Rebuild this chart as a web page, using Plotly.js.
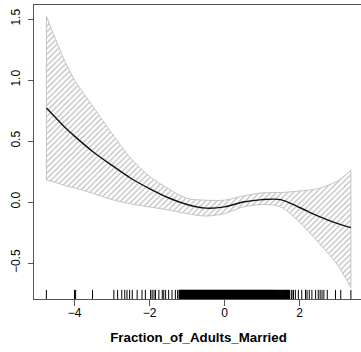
<!DOCTYPE html>
<html>
<head>
<meta charset="utf-8">
<script src="https://cdn.plot.ly/plotly-3.0.1.min.js"></script>
<style>
html,body{margin:0;padding:0;overflow:hidden;background:#fff;width:361px;height:352px;}
#chart{width:370px;height:352px;}
</style>
</head>
<body>
<div id="chart"></div>
<script>
// smooth-term grid
const xGrid = [-4.75, -4.5, -4.25, -4.0, -3.5, -3.0, -2.5, -2.0, -1.5, -1.0, -0.5, 0.0, 0.5, 1.0, 1.5, 2.0, 2.5, 3.0, 3.37];
const fitVals = [0.77, 0.69, 0.61, 0.54, 0.41, 0.30, 0.195, 0.11, 0.035, -0.02, -0.05, -0.04, 0.0, 0.02, 0.02, -0.045, -0.115, -0.175, -0.21];
const upperVals = [1.525, 1.33, 1.15, 1.0, 0.78, 0.56, 0.36, 0.21, 0.11, 0.03, 0.015, 0.015, 0.05, 0.075, 0.078, 0.09, 0.11, 0.17, 0.26];
const lowerVals = [0.18, 0.16, 0.135, 0.115, 0.07, 0.02, -0.015, -0.04, -0.065, -0.095, -0.115, -0.095, -0.04, -0.02, -0.04, -0.165, -0.33, -0.51, -0.70];

// rug of observed x values
const rugSparseLeft = [
 -4.75, -4.00, -3.97, -3.52, -2.95, -2.85, -2.74, -2.66, -2.60, -2.53, -2.46, -2.33, -2.20, -2.11,
 -1.97, -1.93, -1.88, -1.84, -1.75, -1.66, -1.62, -1.57, -1.49, -1.40, -1.31, -1.25
];
const rugDense = [
 -1.20, -1.18, -1.15, -1.13, -1.10, -1.08, -1.05, -1.03, -1.00, -0.98, -0.96, -0.93, -0.91, -0.88,
 -0.86, -0.84, -0.81, -0.79, -0.76, -0.74, -0.72, -0.69, -0.67, -0.64, -0.62, -0.60, -0.57, -0.55,
 -0.52, -0.50, -0.48, -0.45, -0.43, -0.40, -0.38, -0.36, -0.33, -0.31, -0.28, -0.26, -0.24, -0.21,
 -0.19, -0.16, -0.14, -0.12, -0.09, -0.07, -0.04, -0.02, 0.00, 0.03, 0.05, 0.08, 0.10, 0.12, 0.15,
 0.17, 0.20, 0.22, 0.24, 0.27, 0.29, 0.32, 0.34, 0.36, 0.39, 0.41, 0.44, 0.46, 0.48, 0.51, 0.53,
 0.56, 0.58, 0.60, 0.63, 0.65, 0.68, 0.70, 0.72, 0.75, 0.77, 0.80, 0.82, 0.84, 0.87, 0.89, 0.92,
 0.94, 0.96, 0.99, 1.01, 1.04, 1.06, 1.08, 1.11, 1.13, 1.16, 1.18, 1.20, 1.23, 1.25, 1.28, 1.30,
 1.33, 1.36, 1.40, 1.43, 1.47, 1.50, 1.54, 1.57, 1.61, 1.65, 1.68, 1.72,
 -1.165, -1.115, -1.065, -1.015, -0.945, -0.895, -0.825, -0.775, -0.705, -0.655, -0.585, -0.535,
 -0.465, -0.415, -0.345, -0.295, -0.225, -0.175, -0.105, -0.055, 0.015, 0.065, 0.135, 0.185,
 0.255, 0.305, 0.375, 0.425, 0.495, 0.545, 0.615, 0.665, 0.735, 0.785, 0.855, 0.905, 0.975,
 1.025, 1.095, 1.145, 1.215, 1.265, 1.345, 1.415, 1.485, 1.555, 1.625, 1.695
];
const rugSparseRight = [
 1.78, 1.80, 1.84, 1.89, 1.97, 2.06, 2.16, 2.20, 2.26, 2.33, 2.43, 2.50, 2.55, 2.60, 2.65, 2.74,
 2.96, 3.10, 3.37
];

const xTicks = [-4, -2, 0, 2];
const yTicks = [-0.5, 0.0, 0.5, 1.0, 1.5];
const xTitle = "Fraction_of_Adults_Married";

const bandColor = '#c4c4c4';
const last = xGrid.length - 1;

const traces = [
  {x: xGrid, y: lowerVals, mode: 'lines', line: {color: bandColor, width: 1, shape: 'spline', smoothing: 0.8},
   hoverinfo: 'skip', showlegend: false},
  {x: xGrid, y: upperVals, mode: 'lines', line: {color: bandColor, width: 1, shape: 'spline', smoothing: 0.8},
   fill: 'tonexty', fillcolor: 'rgba(255,255,255,0)',
   fillpattern: {shape: '/', fgcolor: '#bdbdbd', bgcolor: 'rgba(255,255,255,0)', size: 4, solidity: 0.3},
   hoverinfo: 'skip', showlegend: false},
  {x: [xGrid[0], xGrid[0]], y: [lowerVals[0], upperVals[0]], mode: 'lines', line: {color: bandColor, width: 1},
   hoverinfo: 'skip', showlegend: false},
  {x: [xGrid[last], xGrid[last]], y: [lowerVals[last], upperVals[last]], mode: 'lines', line: {color: bandColor, width: 1},
   hoverinfo: 'skip', showlegend: false},
  {x: xGrid, y: fitVals, mode: 'lines', line: {color: '#111', width: 1.4, shape: 'spline', smoothing: 0.8},
   showlegend: false}
];

function rugShape(v, w) {
  return {type: 'line', xref: 'x', yref: 'paper', x0: v, x1: v, y0: 0, y1: 0.031,
          line: {color: '#000', width: w}, layer: 'above'};
}
const shapes = rugSparseLeft.map(v => rugShape(v, 1))
  .concat(rugDense.map(v => rugShape(v, 2)))
  .concat(rugSparseRight.map(v => rugShape(v, 1)));

const font = {family: 'Liberation Sans, Arial, Helvetica, sans-serif', size: 12, color: '#000'};

const layout = {
  width: 370, height: 352,
  margin: {l: 34, r: 7, t: 5, b: 53, pad: 0},
  paper_bgcolor: '#fff', plot_bgcolor: '#fff',
  font: font,
  showlegend: false,
  shapes: shapes,
  xaxis: {
    range: [-5.08, 3.693], tickvals: xTicks, ticktext: xTicks.map(v => v < 0 ? '\u2212' + Math.abs(v) : String(v)),
    ticks: 'outside', ticklen: 6, tickcolor: '#555', tickwidth: 1,
    showline: true, linecolor: '#555', linewidth: 1, mirror: true,
    showgrid: false, zeroline: false, ticklabelstandoff: -3,
    title: {text: xTitle, font: {family: 'Liberation Sans, Arial, sans-serif', size: 13.3, color: '#000', weight: 'bold'}, standoff: 13}
  },
  yaxis: {
    range: [-0.795, 1.615], tickvals: yTicks, ticktext: yTicks.map(v => (v < 0 ? '\u2212' : '') + Math.abs(v).toFixed(1)),
    tickangle: -90,
    ticks: 'outside', ticklen: 5, tickcolor: '#555', tickwidth: 1,
    showline: true, linecolor: '#555', linewidth: 1, mirror: true,
    showgrid: false, zeroline: false, ticklabelstandoff: 3
  }
};

Plotly.newPlot('chart', traces, layout, {staticPlot: true, displayModeBar: false});
</script>
</body>
</html>
